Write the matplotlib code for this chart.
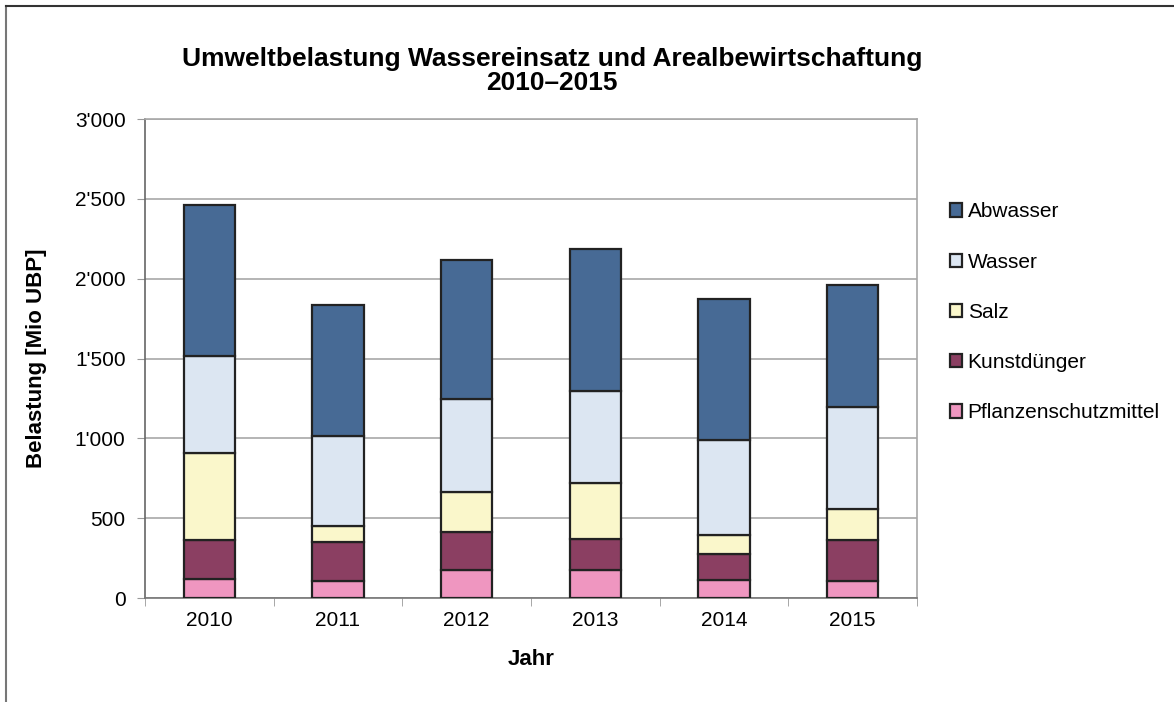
import matplotlib.pyplot as plt
import matplotlib.ticker as mticker
from matplotlib.lines import Line2D
import numpy as np

plt.rcParams['font.family'] = ['Liberation Sans', 'DejaVu Sans']

years = ['2010', '2011', '2012', '2013', '2014', '2015']
pflanzenschutz = [120, 104, 173, 173, 112, 108]
kunstduenger = [241, 248, 242, 196, 165, 254]
salz = [547, 98, 250, 350, 115, 194]
wasser = [606, 567, 581, 575, 595, 640]
abwasser = [948, 816, 869, 891, 888, 764]

series = [
    ('Pflanzenschutzmittel', pflanzenschutz, '#EF96C0'),
    ('Kunstdünger', kunstduenger, '#8B3F62'),
    ('Salz', salz, '#FAF7CB'),
    ('Wasser', wasser, '#DCE6F2'),
    ('Abwasser', abwasser, '#476A95'),
]

fig = plt.figure(figsize=(11.74, 7.02), dpi=100)
ax = fig.add_axes([0.1235, 0.1481, 0.6576, 0.6823])

x = np.arange(len(years))
bottom = np.zeros(len(years))
handles = []
for name, vals, col in series:
    b = ax.bar(x, vals, width=0.40, bottom=bottom, color=col,
               edgecolor='#222222', linewidth=1.6, label=name, zorder=3)
    handles.append(b)
    bottom += np.array(vals)

ax.set_xlim(-0.5, len(years) - 0.5)
ax.set_ylim(0, 3000)
ax.set_yticks(np.arange(0, 3001, 500))
ax.yaxis.set_major_formatter(mticker.FuncFormatter(lambda v, p: f"{int(v):,}".replace(',', "'")))
ax.set_xticks(x)
ax.set_xticklabels(years)
ax.set_xticks(np.arange(-0.5, len(years), 1.0), minor=True)
ax.tick_params(axis='x', which='major', length=0, labelsize=15, pad=9)
ax.tick_params(axis='x', which='minor', length=6, color='#999999', direction='out')
ax.tick_params(axis='y', length=6, color='#999999', labelsize=15, pad=8)

ax.grid(axis='y', color='#A8A8A8', linewidth=1.2, zorder=0)
ax.set_axisbelow(True)
for s in ['top', 'right']:
    ax.spines[s].set_color('#A8A8A8')
    ax.spines[s].set_linewidth(1.2)
ax.spines['left'].set_color('#666666')
ax.spines['bottom'].set_color('#777777')
ax.spines['left'].set_linewidth(1.2)
ax.spines['bottom'].set_linewidth(1.2)

ax.set_ylabel('Belastung [Mio UBP]', fontsize=16, fontweight='bold', labelpad=20)
ax.set_xlabel('Jahr', fontsize=16, fontweight='bold', labelpad=14)

fig.text(0.470, 0.899, 'Umweltbelastung Wassereinsatz und Arealbewirtschaftung\n2010\u20132015',
         ha='center', va='center', fontsize=19, fontweight='bold', linespacing=1.02)

leg = ax.legend(handles[::-1], [s[0] for s in series][::-1],
                loc='center left', bbox_to_anchor=(0.802, 0.555), bbox_transform=fig.transFigure,
                frameon=False, fontsize=15, handlelength=0.6, handleheight=0.6,
                handletextpad=0.25, labelspacing=1.5, borderaxespad=0)

# outer frame (only left and top edges visible)
fig.add_artist(Line2D([6 / 1174, 6 / 1174], [0, 1 - 6 / 702], transform=fig.transFigure,
                      color='#777777', linewidth=1.5))
fig.add_artist(Line2D([6 / 1174, 1], [1 - 6 / 702, 1 - 6 / 702], transform=fig.transFigure,
                      color='#333333', linewidth=1.5))

fig.savefig('out.png', dpi=100)
